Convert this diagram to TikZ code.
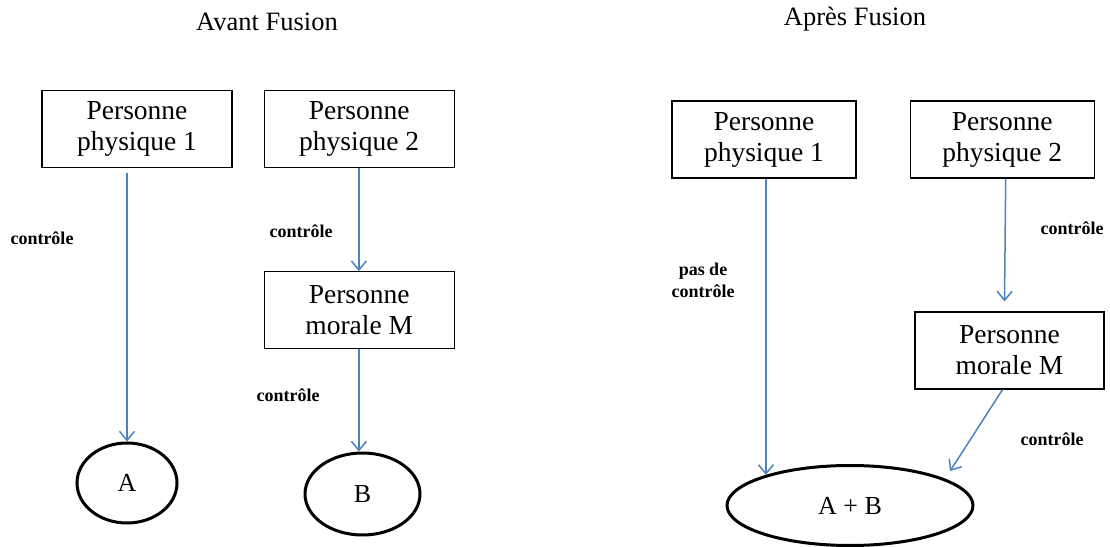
\documentclass[tikz,border=0pt]{standalone}
\usepackage{fontspec}
\setmainfont{Liberation Serif}
\usetikzlibrary{positioning,arrows.meta,shapes.geometric}
\definecolor{linkblue}{HTML}{4F81BD}
\tikzset{
	title/.style={
		font=\fontsize{26.5}{30}\selectfont,
	},
	person/.style={
		draw,
		rectangle,
		line width=1.2pt,
		minimum width=#1,
		minimum height=77pt,
		inner sep=0pt,
		align=center,
		font=\fontsize{27.5}{31}\selectfont,
	},
	person/.default=190pt,
	company/.style={ % requires library shapes.geometric
		draw,
		ellipse,
		line width=3pt,
		inner sep=0pt,
		font=\fontsize{26}{30}\selectfont,
	},
	ctrl/.style={
		draw=linkblue,
		line width=1.5pt,
		-{Straight Barb[length=9pt,width=15pt]},
	},
	ctrl label/.style={
		align=center,
		font=\fontsize{18}{22}\selectfont\bfseries,
	},
}

\begin{document}
\begin{tikzpicture}[x=1pt,y=1pt]
		\useasboundingbox (0,0) rectangle (1110,546);
		% avant fusion
		\node[title] (tavant) at (267,524) {Avant Fusion};
		\node[person] (pp1a) at (137,417) {Personne\\physique 1};
		\node[right= 31pt of pp1a,person] (pp2a) {Personne\\physique 2};
		\node[below= 103pt of pp2a,person] (pma) {Personne\\morale M};
		\node[company,minimum width=100pt,minimum height=80pt] (A) at (127,63) {A};
		\node[company,minimum width=115pt,minimum height=82pt] (B) at (362.5,52) {B};
		\draw[ctrl] ([yshift=-5pt]pp1a.south -| A.north) -- (A.north);
		\draw[ctrl] ([xshift=-0.3pt]pp2a.south) -- ([xshift=-0.3pt]pma.north);
		\draw[ctrl] ([xshift=-0.3pt]pma.south) -- ([xshift=-0.3pt]pma.south |- B.north);
		\node[ctrl label] (c1) at (42,308) {contrôle};
		\node[ctrl label] (c2) at (301,315) {contrôle};
		\node[ctrl label] (c3) at (288,151) {contrôle};
		% apres fusion
		\node[title] (tapres) at (855,527) {Après Fusion};
		\node[person=184pt] (pp1b) at (764,406.5) {Personne\\physique 1};
		\node[right= 53pt of pp1b,person=184pt] (pp2b) {Personne\\physique 2};
		\node[person=189pt] (pmb) at (1009.5,195.5) {Personne\\morale M};
		\node[company,minimum width=246pt,minimum height=80pt] (AB) at (850,40.5) {A + B};
		\draw[ctrl] (pp1b.south -| AB.160) -- (AB.160);
		\draw[ctrl] ([xshift=3.5pt]pp2b.south) -- ([xshift=-5pt,yshift=10pt]pmb.north);
		\draw[ctrl] ([xshift=-7pt]pmb.south) -- ([shift={(12pt,5pt)}]AB.north east);
		\node[ctrl label] (c4) at (703,266) {pas de\\contrôle};
		\node[ctrl label] (c5) at (1072,318) {contrôle};
		\node[ctrl label] (c6) at (1052,107) {contrôle};
	\end{tikzpicture}
\end{document}
